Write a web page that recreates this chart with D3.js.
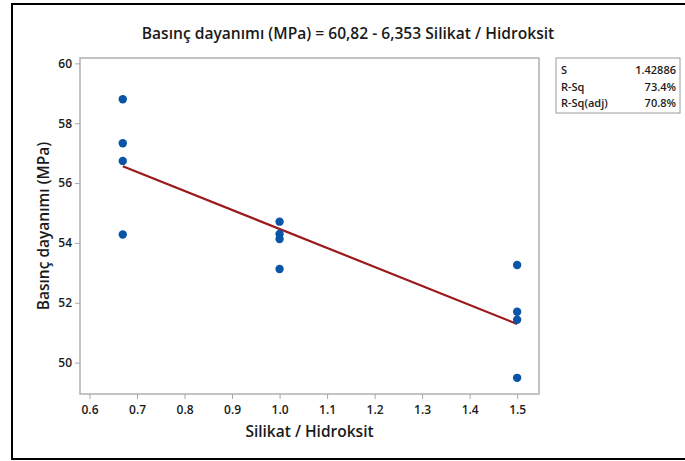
<!DOCTYPE html>
<html>
<head>
<meta charset="utf-8">
<script src="https://cdn.jsdelivr.net/npm/d3@7"></script>
<style>
  body { margin: 0; background: #fff; }
  text { font-family: "Open Sans", "Noto Sans", sans-serif; fill: #1a1a1a; }
</style>
</head>
<body>
<script>
// fitted line plot: Basınç dayanımı vs Silikat / Hidroksit

var width = 685, height = 461;

var ratio    = [0.67, 0.67, 0.67, 0.67, 1.0, 1.0, 1.0, 1.0, 1.5, 1.5, 1.5, 1.5];
var strength = [58.80, 57.33, 56.74, 54.28, 54.71, 54.30, 54.13, 53.13, 53.26, 51.70, 51.43, 49.49];

var intercept = 60.82, slope = -6.353;

var xTicks = [0.6, 0.7, 0.8, 0.9, 1.0, 1.1, 1.2, 1.3, 1.4, 1.5];
var yTicks = [50, 52, 54, 56, 58, 60];

var statLabels = ["S", "R-Sq", "R-Sq(adj)"];
var statValues = ["1.42886", "73.4%", "70.8%"];

var plot = {left: 80, top: 58, right: 539, bottom: 394};

var svg = d3.select("body").append("svg")
    .attr("width", width)
    .attr("height", height);

// outer frame
svg.append("rect")
    .attr("x", 12).attr("y", 4)
    .attr("width", 680).attr("height", 455)
    .attr("fill", "none")
    .attr("stroke", "#000")
    .attr("stroke-width", 2);

var x = d3.scaleLinear().domain([0.58, 1.546]).range([plot.left, plot.right]);
var y = d3.scaleLinear().domain([48.95, 60.18]).range([plot.bottom, plot.top]);

// plot box
svg.append("rect")
    .attr("x", plot.left).attr("y", plot.top)
    .attr("width", plot.right - plot.left)
    .attr("height", plot.bottom - plot.top)
    .attr("fill", "none")
    .attr("stroke", "#b0b0b0")
    .attr("stroke-width", 1.5);

var xAxis = svg.append("g")
    .attr("transform", "translate(0," + plot.bottom + ")")
    .call(d3.axisBottom(x).tickValues(xTicks).tickSize(5).tickSizeOuter(0)
      .tickFormat(d3.format(".1f")));

var yAxis = svg.append("g")
    .attr("transform", "translate(" + plot.left + ",0)")
    .call(d3.axisLeft(y).tickValues(yTicks).tickSize(5).tickSizeOuter(0));

[xAxis, yAxis].forEach(function(g) {
  g.select(".domain").remove();
  g.selectAll(".tick line").attr("stroke", "#a8a8a8");
  g.selectAll(".tick text")
    .style("font-size", "12px")
    .style("font-weight", 600)
    .attr("fill", "#1a1a1a");
});
xAxis.selectAll(".tick text").attr("dy", "1em");

// regression line
var xs = d3.extent(ratio);
svg.append("line")
    .attr("x1", x(xs[0])).attr("y1", y(intercept + slope * xs[0]))
    .attr("x2", x(xs[1])).attr("y2", y(intercept + slope * xs[1]))
    .attr("stroke", "#9b1b1b")
    .attr("stroke-width", 2.2);

// points
svg.selectAll("circle.pt")
  .data(ratio)
  .enter().append("circle")
    .attr("class", "pt")
    .attr("cx", function(d) { return x(d); })
    .attr("cy", function(d, i) { return y(strength[i]); })
    .attr("r", 4.2)
    .attr("fill", "#0a55a6");

// title
svg.append("text")
    .attr("x", 348).attr("y", 39)
    .attr("text-anchor", "middle")
    .style("font-size", "15.6px")
    .style("font-weight", 600)
    .text("Basınç dayanımı (MPa) = 60,82 - 6,353 Silikat / Hidroksit");

// axis titles
svg.append("text")
    .attr("x", (plot.left + plot.right) / 2).attr("y", 437)
    .attr("text-anchor", "middle")
    .style("font-size", "15.5px")
    .style("font-weight", 600)
    .text("Silikat / Hidroksit");

svg.append("text")
    .attr("transform", "translate(49," + (plot.top + plot.bottom) / 2 + ") rotate(-90)")
    .attr("text-anchor", "middle")
    .style("font-size", "15.5px")
    .style("font-weight", 600)
    .text("Basınç dayanımı (MPa)");

// stats box
svg.append("rect")
    .attr("x", 556).attr("y", 58)
    .attr("width", 124).attr("height", 55)
    .attr("fill", "#fff")
    .attr("stroke", "#9a9a9a");

var rows = svg.selectAll("g.stat")
  .data(statLabels)
  .enter().append("g")
    .attr("class", "stat")
    .attr("transform", function(d, i) { return "translate(0," + (74 + i * 16.5) + ")"; });

rows.append("text")
    .attr("x", 561)
    .style("font-size", "11px")
    .style("font-weight", 600)
    .text(function(d) { return d; });

rows.append("text")
    .attr("x", 676)
    .attr("text-anchor", "end")
    .style("font-size", "11px")
    .style("font-weight", 600)
    .text(function(d, i) { return statValues[i]; });
</script>
</body>
</html>
